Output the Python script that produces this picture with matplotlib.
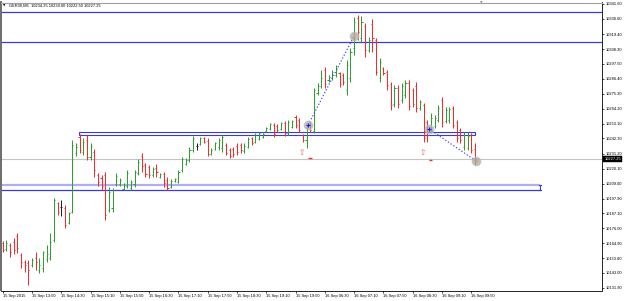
import matplotlib
matplotlib.use("Agg")
import matplotlib.pyplot as plt
from matplotlib.patches import Rectangle
import matplotlib.transforms as mtrans
import numpy as np

# ---------------- data ----------------
symbol_title = "GER30,M5  10234.25 10239.00 10222.50 10227.25"

opens = [10165.1, 10160.7, 10163.6, 10165.9, 10170.3, 10156.3, 10151.1, 10150.4, 10148.9, 10154.0,
         10145.2, 10146.7, 10153.3, 10154.0, 10167.3, 10194.6, 10191.7, 10191.0, 10179.9, 10188.0,
         10231.6, 10243.4, 10232.3, 10241.2, 10228.6, 10232.3, 10215.3, 10213.1, 10215.3, 10189.5,
         10191.0, 10208.7, 10208.7, 10205.0, 10207.2, 10205.7, 10208.7, 10216.8, 10229.4, 10222.7,
         10221.2, 10215.3, 10220.5, 10213.9, 10216.1, 10211.6, 10206.5, 10210.9, 10210.2, 10219.0,
         10223.5, 10226.4, 10233.8, 10236.7, 10238.2, 10242.7, 10240.4, 10230.8, 10234.5, 10236.0,
         10235.3, 10237.5, 10233.8, 10234.5, 10236.7, 10237.5, 10233.0, 10236.0, 10242.7, 10239.7,
         10241.9, 10243.4, 10247.8, 10249.3, 10252.3, 10251.5, 10249.3, 10253.7, 10246.3, 10250.8,
         10258.2, 10255.9, 10244.9, 10241.2, 10253.0, 10247.8, 10275.9, 10281.1, 10292.9, 10285.5,
         10287.0, 10289.2, 10290.6, 10289.2, 10278.1, 10287.0, 10309.1, 10331.3, 10316.5, 10325.4,
         10307.6, 10326.8, 10315.0, 10287.0, 10294.3, 10291.4, 10282.5, 10267.8, 10279.6, 10270.7,
         10274.4, 10283.3, 10278.1, 10281.1, 10264.8, 10267.0, 10254.5, 10248.6, 10251.5, 10255.9,
         10270.7, 10255.2, 10255.9, 10264.8, 10254.5, 10248.6, 10236.0, 10235.3, 10244.9, 10234.25]

highs = [10166.6, 10167.3, 10165.1, 10168.8, 10172.5, 10157.7, 10152.6, 10152.6, 10154.0, 10158.5,
         10154.0, 10159.2, 10163.6, 10172.5, 10198.3, 10195.4, 10196.9, 10193.2, 10188.0, 10241.2,
         10239.0, 10245.6, 10242.7, 10244.9, 10239.0, 10234.5, 10216.8, 10215.3, 10217.5, 10206.5,
         10205.7, 10216.8, 10213.1, 10209.4, 10219.0, 10211.6, 10219.0, 10227.1, 10231.6, 10224.2,
         10222.7, 10221.2, 10223.5, 10216.8, 10217.5, 10213.9, 10212.4, 10213.1, 10219.0, 10228.6,
         10227.9, 10236.0, 10244.1, 10239.0, 10243.4, 10243.4, 10242.7, 10235.3, 10239.7, 10242.7,
         10244.9, 10239.0, 10235.3, 10236.0, 10239.0, 10239.0, 10239.0, 10243.4, 10243.4, 10246.3,
         10247.1, 10246.3, 10250.8, 10253.7, 10253.7, 10253.0, 10254.5, 10255.2, 10255.9, 10255.9,
         10259.6, 10257.4, 10245.6, 10252.3, 10254.5, 10279.6, 10283.3, 10292.9, 10295.1, 10289.2,
         10292.9, 10296.6, 10291.4, 10290.6, 10300.3, 10309.1, 10332.0, 10333.5, 10332.7, 10327.6,
         10317.2, 10330.5, 10316.5, 10301.7, 10295.1, 10292.9, 10284.0, 10281.8, 10281.8, 10283.3,
         10285.5, 10285.5, 10279.6, 10284.0, 10270.7, 10268.5, 10255.9, 10261.1, 10259.6, 10267.0,
         10272.9, 10265.5, 10265.5, 10266.3, 10255.9, 10250.0, 10247.1, 10247.1, 10246.3, 10239.00]

lows = [10158.5, 10159.2, 10154.8, 10157.0, 10157.7, 10146.7, 10143.7, 10134.1, 10147.4, 10145.2,
        10143.0, 10143.7, 10151.1, 10152.6, 10165.9, 10185.8, 10185.1, 10176.2, 10179.2, 10187.3,
        10229.4, 10231.6, 10230.1, 10226.4, 10226.4, 10213.9, 10207.2, 10204.3, 10182.1, 10188.0,
        10188.0, 10207.2, 10207.2, 10204.3, 10205.7, 10204.3, 10206.5, 10215.3, 10217.5, 10213.9,
        10213.1, 10213.9, 10213.9, 10213.1, 10206.5, 10204.3, 10205.7, 10210.2, 10209.4, 10217.5,
        10222.7, 10224.9, 10232.3, 10233.8, 10237.5, 10239.0, 10229.4, 10230.1, 10233.8, 10233.8,
        10232.3, 10230.1, 10227.9, 10228.6, 10230.1, 10231.6, 10231.6, 10235.3, 10237.5, 10239.0,
        10241.2, 10242.7, 10247.1, 10248.6, 10243.4, 10247.1, 10248.6, 10244.1, 10244.9, 10250.0,
        10250.0, 10247.1, 10239.7, 10235.3, 10247.1, 10246.3, 10274.4, 10279.6, 10279.6, 10284.0,
        10285.5, 10287.7, 10280.3, 10281.8, 10274.4, 10284.0, 10303.9, 10315.0, 10313.5, 10302.5,
        10306.2, 10306.2, 10289.2, 10284.0, 10289.2, 10278.1, 10263.3, 10265.5, 10264.8, 10268.5,
        10272.2, 10263.3, 10265.5, 10261.9, 10263.3, 10239.7, 10239.7, 10246.3, 10250.0, 10254.5,
        10250.8, 10253.7, 10253.7, 10250.0, 10239.7, 10239.0, 10233.8, 10233.8, 10231.6, 10222.50]

closes = [10160.0, 10165.1, 10158.5, 10160.0, 10161.4, 10151.1, 10148.9, 10145.2, 10152.6, 10151.1,
          10148.9, 10158.5, 10157.0, 10165.9, 10196.9, 10188.0, 10191.7, 10178.4, 10187.3, 10237.5,
          10236.0, 10233.8, 10239.7, 10228.6, 10236.7, 10219.0, 10210.2, 10207.2, 10185.8, 10202.8,
          10204.3, 10214.6, 10211.6, 10207.9, 10216.8, 10210.2, 10217.5, 10224.9, 10222.0, 10216.1,
          10215.3, 10219.8, 10217.5, 10216.1, 10209.4, 10205.7, 10210.9, 10212.4, 10217.5, 10227.1,
          10226.4, 10233.8, 10242.7, 10236.7, 10242.7, 10239.7, 10230.8, 10233.8, 10239.0, 10241.2,
          10243.4, 10231.6, 10229.4, 10230.8, 10232.3, 10233.8, 10236.7, 10241.9, 10239.0, 10244.9,
          10246.3, 10245.6, 10250.0, 10253.0, 10245.6, 10248.6, 10253.7, 10246.3, 10254.5, 10255.2,
          10252.3, 10248.6, 10241.2, 10250.8, 10248.6, 10278.1, 10281.1, 10287.0, 10282.5, 10287.7,
          10291.4, 10294.3, 10282.5, 10284.0, 10296.6, 10306.2, 10328.3, 10320.9, 10328.3, 10307.6,
          10315.0, 10316.5, 10291.4, 10298.8, 10290.6, 10281.8, 10267.0, 10279.6, 10267.8, 10281.1,
          10283.3, 10266.3, 10267.8, 10264.8, 10269.2, 10242.7, 10244.9, 10257.4, 10257.4, 10264.8,
          10254.5, 10263.3, 10264.1, 10252.3, 10242.7, 10241.2, 10244.9, 10244.1, 10233.8, 10227.25]

price_ticks = [10341.60, 10330.60, 10319.40, 10308.30, 10297.50, 10286.40, 10275.30, 10264.20,
               10253.10, 10242.30, 10231.20, 10220.10, 10209.00, 10197.90, 10187.10, 10176.00,
               10164.90, 10153.80, 10143.00, 10131.90]
time_tick_bars = [0, 8, 16, 24, 32, 40, 48, 56, 64, 72, 80, 88, 96, 104, 112, 120, 128]
time_labels = ["15 Sep 2015", "15 Sep 13:50", "15 Sep 14:30", "15 Sep 15:10", "15 Sep 15:50",
               "15 Sep 16:30", "15 Sep 17:10", "15 Sep 17:50", "15 Sep 18:30", "15 Sep 19:10",
               "15 Sep 19:50", "16 Sep 06:30", "16 Sep 07:10", "16 Sep 07:50", "16 Sep 08:30",
               "16 Sep 09:10", "16 Sep 09:50"]

hlines_levels = [10335.7, 10313.5]
bid_price = 10227.25
rect1 = dict(x0=20.85, x1=128.9, lo=10244.6, hi=10246.9)
rect2 = dict(x0=-1.0, x1=146.8, lo=10204.0, hi=10208.3)
trend1 = ([83.42, 95.98], [10252.25, 10317.97])
trend2 = ([116.48, 129.3], [10249.3, 10225.67])
arrow_pts = ([81.8, 114.8], [10231.9, 10231.6])
dash_pts = ([(83.4, 84.5), (116.5, 117.4)], [10228.1, 10226.2])

# ---------------- figure ----------------
W, H = 625, 301
fig = plt.figure(figsize=(W / 100, H / 100), dpi=100)
fig.patch.set_facecolor("white")
L, R, T, B = 1.5, 602.0, 2.5, 290.5
ax = fig.add_axes([L / W, 1 - B / H, (R - L) / W, (B - T) / H])
ax.set_facecolor("white")
ax.set_xlim(-0.33, 163.7)
ax.set_ylim(10130.05, 10342.7)

FONT = "Liberation Sans"
FS = 2.9
px = 0.72  # one pixel in points

up_c, dn_c, dj_c = "#2f9e2f", "#f52a2a", "#202020"
blue = "#3a3ad8"

# horizontal lines
for lv in hlines_levels:
    ax.axhline(lv, color=blue, lw=0.9, zorder=2)
ax.axhline(bid_price, color="#c4c4c4", lw=0.8, zorder=1)

# rectangle 1
ax.add_patch(Rectangle((rect1["x0"], rect1["lo"]), rect1["x1"] - rect1["x0"],
                       rect1["hi"] - rect1["lo"], fill=False, edgecolor=blue, lw=0.8, zorder=2))
# rectangle 2 (top edge highlighted)
ax.plot([rect2["x0"], rect2["x1"]], [rect2["hi"], rect2["hi"]], color="#aeb0f0", lw=1.6, zorder=2,
        solid_capstyle="butt")
ax.plot([rect2["x0"], rect2["x1"]], [rect2["lo"], rect2["lo"]], color=blue, lw=0.9, zorder=2,
        solid_capstyle="butt")
ax.plot([rect2["x1"], rect2["x1"]], [rect2["lo"], rect2["hi"]], color=blue, lw=0.8, zorder=2)
for yy in (rect2["lo"], rect2["hi"]):
    ax.plot([rect2["x1"] - 0.35, rect2["x1"] + 0.35], [yy, yy], color=blue, lw=0.8, zorder=2)

# bars
for i, (o, h, l, c) in enumerate(zip(opens, highs, lows, closes)):
    col = up_c if c > o else (dn_c if c < o else dj_c)
    ax.plot([i, i], [l, h], color=col, lw=px, zorder=3, solid_capstyle="butt")
    ax.plot([i - 0.3, i], [o, o], color=col, lw=px, zorder=3, solid_capstyle="butt")
    ax.plot([i, i + 0.3], [c, c], color=col, lw=px, zorder=3, solid_capstyle="butt")

# trend lines (dotted)
for xs, ys in (trend1, trend2):
    ax.plot(xs, ys, color="#4a4aec", lw=0.9, ls=(0, (1, 1.6)), zorder=4)

# circles at trend end points
for xs, ys in (trend1, trend2):
    ax.plot(xs, ys, ls="none", marker="o", ms=6, mfc="#a8a8a8", mec="#bdbdbd", alpha=0.75, zorder=5)
ax.plot([trend1[0][0], trend2[0][0]], [trend1[1][0], trend2[1][0]], ls="none", marker="+",
        ms=3, mew=0.8, color="#1a1aff", zorder=6)
ax.plot([trend1[0][1], trend2[0][1]], [trend1[1][1], trend2[1][1]], ls="none", marker="o",
        ms=1.6, mew=0, color="#f0a020", zorder=6)

# arrow symbols and small dashes
for xa, ya in zip(*arrow_pts):
    ax.text(xa, ya, "\u21e7", color="#f06060", fontsize=5.5, ha="center", va="center",
            family=["DejaVu Sans"], zorder=6)
for (xa0, xa1), yd in zip(*dash_pts):
    ax.plot([xa0, xa1], [yd, yd], color="#ee3030", lw=1.0, zorder=6, solid_capstyle="butt")

# axes styling
ax.spines["left"].set_color("#6c6c6c")
ax.spines["left"].set_linewidth(1.4)
ax.spines["top"].set_color("#a0a0a0")
ax.spines["top"].set_linewidth(0.8)
ax.spines["right"].set_color("#000000")
ax.spines["right"].set_linewidth(0.6)
ax.spines["bottom"].set_color("#000000")
ax.spines["bottom"].set_linewidth(0.6)

ax.yaxis.tick_right()
ax.set_yticks(price_ticks)
ax.set_yticklabels([f"{v:.2f}" for v in price_ticks])
ax.tick_params(axis="y", length=1.6, width=0.5, pad=1.2, labelsize=FS, colors="#000000")
ax.set_xticks(time_tick_bars)
ax.set_xticklabels(time_labels)
ax.tick_params(axis="x", length=1.6, width=0.5, pad=1.2, labelsize=FS, colors="#000000")
for lab in ax.get_xticklabels():
    lab.set_horizontalalignment("left")
    lab.set_family(FONT)
for lab in ax.get_yticklabels():
    lab.set_family(FONT)

# current price box on the axis
trans = mtrans.blended_transform_factory(ax.transAxes, ax.transData)
ax.text(1.004, bid_price, f"{bid_price:.2f}", transform=trans, fontsize=FS, color="white",
        family=FONT, ha="left", va="center", zorder=10, clip_on=False,
        bbox=dict(boxstyle="square,pad=0.25", fc="black", ec="black", lw=0.3))

# header
fig.text(3.2 / W, 1 - 5.5 / H, "\u25bc", fontsize=2.2, color="#000000", ha="left", va="center",
         family=["DejaVu Sans"])
fig.text(9 / W, 1 - 5.5 / H, symbol_title, fontsize=FS, color="#000000", ha="left", va="center",
         family=FONT)
fig.text(481.5 / W, 1 - 3.0 / H, "\u25bc", fontsize=2.4, color="#8a8a8a", ha="center", va="center",
         family=["DejaVu Sans"])

fig.savefig("out.png", dpi=100, facecolor="white")
